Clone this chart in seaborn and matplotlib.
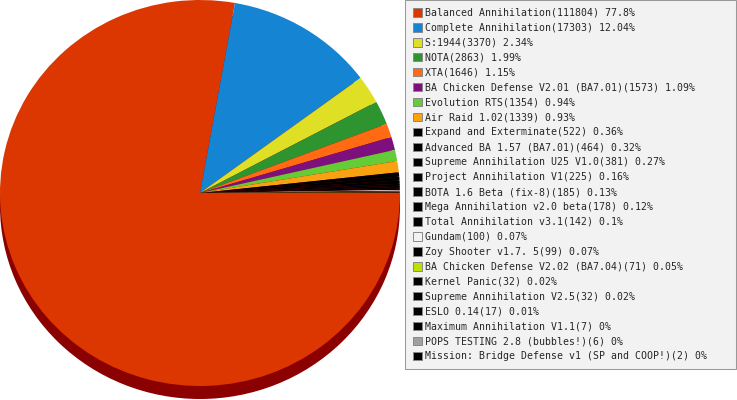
import matplotlib
matplotlib.use("Agg")
import matplotlib.pyplot as plt
from matplotlib.patches import Patch
import seaborn as sns

# mod names and game counts, in legend order
mods = ["Balanced Annihilation", "Complete Annihilation", "S:1944", "NOTA", "XTA",
        "BA Chicken Defense V2.01 (BA7.01)", "Evolution RTS", "Air Raid 1.02",
        "Expand and Exterminate", "Advanced BA 1.57 (BA7.01)",
        "Supreme Annihilation U25 V1.0", "Project Annihilation V1",
        "BOTA 1.6 Beta (fix-8)", "Mega Annihilation v2.0 beta",
        "Total Annihilation v3.1", "Gundam", "Zoy Shooter v1.7. 5",
        "BA Chicken Defense V2.02 (BA7.04)", "Kernel Panic",
        "Supreme Annihilation V2.5", "ESLO 0.14", "Maximum Annihilation V1.1",
        "POPS TESTING 2.8 (bubbles!)", "Mission: Bridge Defense v1 (SP and COOP!)"]
games = [111804, 17303, 3370, 2863, 1646, 1573, 1354, 1339, 522, 464, 381, 225,
         185, 178, 142, 100, 99, 71, 32, 32, 17, 7, 6, 2]
colors = ["#DC3700", "#1484D3", "#DFDF26", "#2E9430", "#FF6A13", "#7E0F7E",
          "#64CC37", "#F8A212", "#000000", "#000000", "#000000", "#000000",
          "#000000", "#000000", "#000000", "#F2F2F2", "#000000", "#BDE000",
          "#000000", "#000000", "#000000", "#000000", "#A0A0A0", "#000000"]

total = sum(games)
labels = [f"{m}({g}) {round(g * 100 / total, 2):g}%" for m, g in zip(mods, games)]

sns.set_theme(style="white")
plt.rcParams["font.family"] = ["DejaVu Sans Mono", "DejaVu Sans"]

fig = plt.figure(figsize=(7.37, 4.0), dpi=100)
ax = fig.add_axes([0, 0, 401 / 737, 1])

depth = 13 / 193
# dark rim under the pie for the 3d look
ax.pie([1], colors=["#8B0000"], center=(0, -depth), radius=1,
       wedgeprops=dict(linewidth=0))
ax.pie(games, colors=colors, startangle=0, counterclock=False, radius=1,
       center=(0, 0), wedgeprops=dict(linewidth=0))
ax.set_aspect("auto")
ax.set_xlim(-1, 1.005)
ax.set_ylim(-400 / 193 + 1.0, 1.0)
ax.axis("off")

handles = [Patch(facecolor=c, edgecolor="#888888", linewidth=0.7) for c in colors]
leg = fig.legend(handles, labels, loc="upper left",
                 bbox_to_anchor=(405 / 737, 0, 331 / 737, 1.0), mode="expand",
                 fontsize=7.1, frameon=True, fancybox=False, framealpha=1,
                 borderpad=0.8, borderaxespad=0, labelspacing=0.5,
                 handlelength=0.93, handleheight=0.93, handletextpad=0.3)
leg.get_frame().set_facecolor("#F2F2F2")
leg.get_frame().set_edgecolor("#999999")
leg.get_frame().set_linewidth(0.75)

fig.savefig("out.png", dpi=100)
